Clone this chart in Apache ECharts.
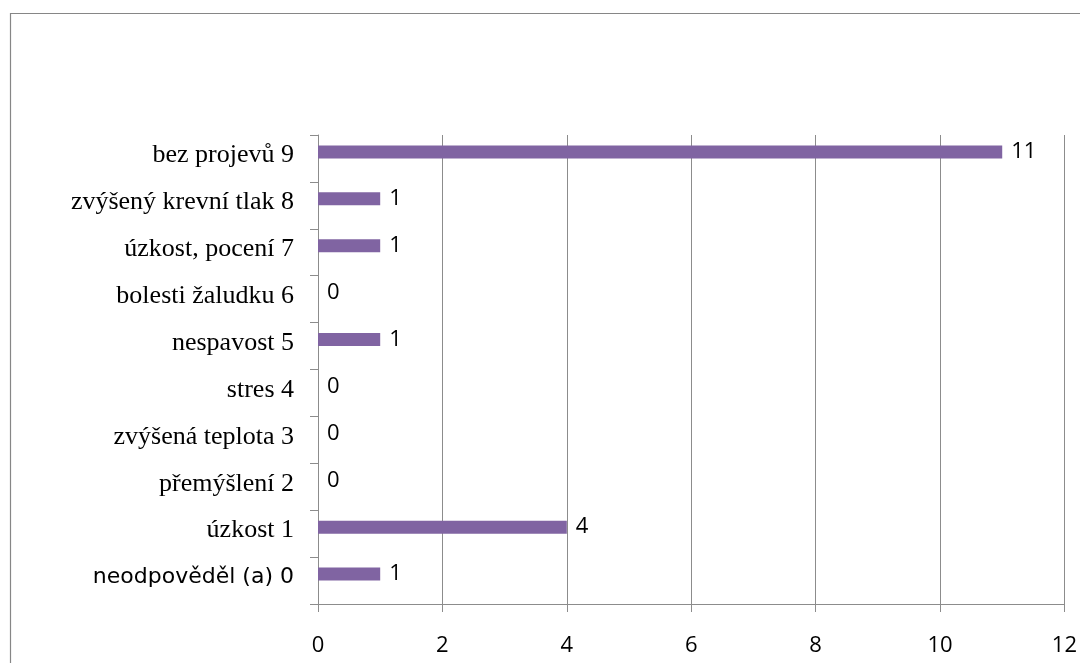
<!DOCTYPE html>
<html>
<head>
<meta charset="utf-8">
<script src="https://cdn.jsdelivr.net/npm/echarts@6/dist/echarts.min.js"></script>
<style>
  html, body { margin: 0; padding: 0; background: #fff; }
  #chart { width: 1080px; height: 663px; }
</style>
</head>
<body>
<div id="chart"></div>
<script>
// Categories listed bottom-to-top (category axis draws first item at the bottom)
const categories = [
  'neodpověděl (a) 0',
  'úzkost 1',
  'přemýšlení 2',
  'zvýšená teplota 3',
  'stres 4',
  'nespavost 5',
  'bolesti žaludku 6',
  'úzkost, pocení 7',
  'zvýšený krevní tlak 8',
  'bez projevů 9'
];
const counts = [1, 4, 0, 0, 0, 1, 0, 1, 1, 11];
const xTicks = [0, 2, 4, 6, 8, 10, 12];

const chart = echarts.init(document.getElementById('chart'), null, { renderer: 'canvas' });

const option = {
  backgroundColor: '#ffffff',
  animation: false,
  graphic: [{
    type: 'rect',
    left: 8, top: 11,
    shape: { width: 1200, height: 800 },
    style: { fill: 'none', stroke: '#868686', lineWidth: 1.2 },
    silent: true, z: -1
  }],
  grid: { left: 318, right: 14, top: 135, bottom: 59, containLabel: false },
  xAxis: {
    type: 'value',
    min: xTicks[0],
    max: xTicks[xTicks.length - 1],
    interval: 2,
    axisLine: { show: true, lineStyle: { color: '#8c8c8c', width: 1 } },
    axisTick: { show: true, length: 8, lineStyle: { color: '#8c8c8c' } },
    splitLine: { show: true, lineStyle: { color: '#8c8c8c', width: 1 } },
    axisLabel: {
      color: '#000', fontFamily: 'Open Sans', fontSize: 22, margin: 31,
      formatter: v => xTicks.includes(v) ? String(v) : ''
    }
  },
  yAxis: {
    type: 'category',
    data: categories,
    axisLine: { show: true, lineStyle: { color: '#8c8c8c', width: 1 } },
    axisTick: { show: true, length: 8, alignWithLabel: false, lineStyle: { color: '#8c8c8c' } },
    splitLine: { show: false },
    axisLabel: {
      margin: 24,
      formatter: (v, i) => i === 0 ? '{sans|' + v + '}' : '{serif|' + v + '}',
      rich: {
        serif: { fontFamily: 'Liberation Serif', fontSize: 26, color: '#000', padding: [0, 0, 6, 0] },
        sans: { fontFamily: 'DejaVu Sans', fontSize: 22, color: '#000', padding: [0, 0, 6, 0] }
      }
    }
  },
  series: [{
    type: 'bar',
    data: counts,
    barWidth: 13,
    barGap: '0%',
    itemStyle: { color: '#8064A2' },
    label: {
      show: true, position: 'right', distance: 9,
      color: '#000', fontFamily: 'Open Sans', fontSize: 22
    }
  }, {
    // empty companion series: keeps the bar slot in the upper half of each row
    type: 'bar',
    data: [],
    barWidth: 13,
    barGap: '0%',
    silent: true
  }]
};

chart.setOption(option);
</script>
</body>
</html>
